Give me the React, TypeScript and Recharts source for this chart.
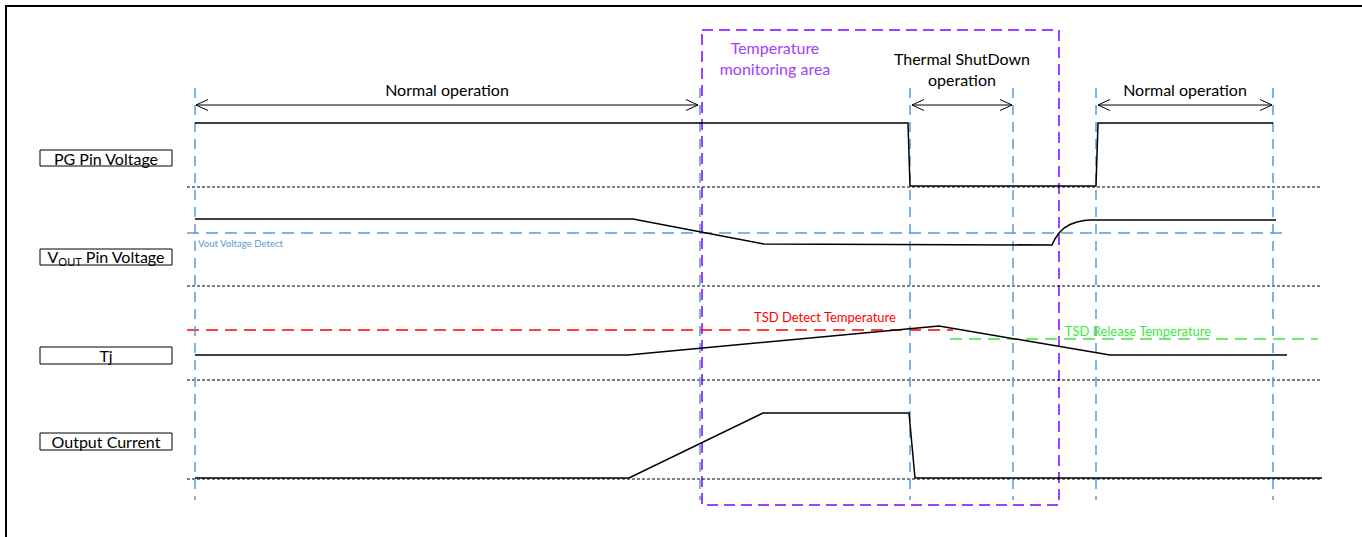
import React from 'react';
import { LineChart, Line, XAxis, YAxis, ReferenceLine, ReferenceArea, ReferenceDot } from 'recharts';

// timing diagram, x = time, y = signal level (diagram units, top = 0)
const pgTime = [195, 908, 910, 1096, 1098, 1273];
const pgLevel = [123, 123, 186, 186, 123, 123];

const voutTime = [195, 633, 764, 1052, 1055, 1059, 1064, 1070, 1077, 1084, 1090, 1276];
const voutLevel = [219, 219, 244, 245, 239, 233, 228, 224.5, 222, 220.5, 220, 220];

const tjTime = [195, 628, 939, 1110, 1287];
const tjLevel = [355, 355, 326, 355, 355];

const currentTime = [195, 629, 763, 909, 915, 1322];
const currentLevel = [478, 478, 413, 413, 478, 478];

const phaseMarks = [195, 700, 910, 1013, 1096, 1273];
const laneSeparators = [187, 286, 380, 479];

const voutDetect = 233;
const tsdDetect = 330;
const tsdRelease = 339;

const laneLabels = [
  { name: 'PG Pin Voltage', top: 150, bottom: 166 },
  { name: 'VOUT Pin Voltage', top: 249, bottom: 265 },
  { name: 'Tj', top: 347, bottom: 364 },
  { name: 'Output Current', top: 433, bottom: 450 },
];

const spans = [
  { from: 196, to: 698, lines: ['Normal operation'], at: 89 },
  { from: 912, to: 1012, lines: ['Thermal ShutDown', 'operation'], at: 58 },
  { from: 1098, to: 1272, lines: ['Normal operation'], at: 89 },
];

const FONT = 'Lato, "Open Sans", sans-serif';
const BLUE = '#5b9bd5';
const PURPLE = '#a040ff';
const RED = '#ff0000';
const GREEN = '#3ce83c';
const SIZE = 16;

const pts = (ts: number[], vs: number[]) => ts.map((t, i) => ({ t, v: vs[i] }));

const centerText = (lines: string[], color: string, size: number, lineGap: number) => (props: any) => {
  const vb = props.viewBox || {};
  const cx = (vb.cx ?? vb.x + (vb.width || 0) / 2);
  const cy = (vb.cy ?? vb.y + (vb.height || 0) / 2);
  return (
    <g>
      {lines.map((s, i) => (
        <text key={i} x={cx} y={cy + i * lineGap} textAnchor="middle" dominantBaseline="central"
          fill={color} fontSize={size} fontFamily={FONT}>{s}</text>
      ))}
    </g>
  );
};

const voutLabel = (props: any) => {
  const vb = props.viewBox;
  const cx = vb.x + vb.width / 2;
  const cy = vb.y + vb.height / 2 + 5.5;
  return (
    <text x={cx} y={cy} textAnchor="middle" fill="#000" fontSize={SIZE} fontFamily={FONT}>
      V<tspan fontSize={11} dy={3}>OUT</tspan><tspan dy={-3}> Pin Voltage</tspan>
    </text>
  );
};

export default function App() {
  return (
    <div style={{ position: 'absolute', left: 0, top: 0, background: '#fff', fontFamily: FONT }}>
      <LineChart width={1362} height={537} margin={{ top: 0, right: 0, bottom: 0, left: 0 }}>
        <XAxis type="number" dataKey="t" domain={[0, 1362]} hide allowDataOverflow />
        <YAxis type="number" domain={[0, 537]} reversed hide allowDataOverflow />

        {/* frame */}
        <ReferenceLine segment={[{ x: 5, y: 6 }, { x: 1362, y: 6 }]} stroke="#000" strokeWidth={2} />
        <ReferenceLine segment={[{ x: 6, y: 6 }, { x: 6, y: 537 }]} stroke="#000" strokeWidth={2} />

        {laneSeparators.map((y) => (
          <ReferenceLine key={y} segment={[{ x: 187, y }, { x: 1322, y }]} stroke="#000" strokeWidth={1} strokeDasharray="3 2" />
        ))}

        <ReferenceLine segment={[{ x: 187, y: voutDetect }, { x: 1289, y: voutDetect }]} stroke={BLUE} strokeWidth={1.5} strokeDasharray="12 7" />
        <ReferenceLine segment={[{ x: 187, y: tsdDetect }, { x: 953, y: tsdDetect }]} stroke={RED} strokeWidth={1.5} strokeDasharray="12 7" />
        <ReferenceLine segment={[{ x: 950, y: tsdRelease }, { x: 1318, y: tsdRelease }]} stroke={GREEN} strokeWidth={1.5} strokeDasharray="12 7" />

        <ReferenceArea x1={702} x2={1059} y1={30} y2={505} fill="none" stroke={PURPLE} strokeWidth={2} strokeDasharray="11 6" />

        {phaseMarks.map((x) => (
          <ReferenceLine key={x} segment={[{ x, y: 88 }, { x, y: 500 }]} stroke={BLUE} strokeWidth={1.5} strokeDasharray="10 7" />
        ))}

        <Line data={pts(pgTime, pgLevel)} dataKey="v" type="linear" stroke="#000" strokeWidth={1.5} dot={false} activeDot={false} isAnimationActive={false} />
        <Line data={pts(voutTime, voutLevel)} dataKey="v" type="linear" stroke="#000" strokeWidth={1.5} dot={false} activeDot={false} isAnimationActive={false} />
        <Line data={pts(tjTime, tjLevel)} dataKey="v" type="linear" stroke="#000" strokeWidth={1.5} dot={false} activeDot={false} isAnimationActive={false} />
        <Line data={pts(currentTime, currentLevel)} dataKey="v" type="linear" stroke="#000" strokeWidth={1.5} dot={false} activeDot={false} isAnimationActive={false} />

        {/* span arrows */}
        {spans.map((s, i) => (
          <React.Fragment key={i}>
            <ReferenceLine segment={[{ x: s.from, y: 105 }, { x: s.to, y: 105 }]} stroke="#000" strokeWidth={1} />
            <ReferenceLine segment={[{ x: s.from, y: 105 }, { x: s.from + 12, y: 99.5 }]} stroke="#000" strokeWidth={1} />
            <ReferenceLine segment={[{ x: s.from, y: 105 }, { x: s.from + 12, y: 110.5 }]} stroke="#000" strokeWidth={1} />
            <ReferenceLine segment={[{ x: s.to, y: 105 }, { x: s.to - 12, y: 99.5 }]} stroke="#000" strokeWidth={1} />
            <ReferenceLine segment={[{ x: s.to, y: 105 }, { x: s.to - 12, y: 110.5 }]} stroke="#000" strokeWidth={1} />
            <ReferenceDot x={(s.from + s.to) / 2} y={s.at} r={0.01} fill="none" stroke="none"
              label={{ content: centerText(s.lines, '#000', SIZE, 21) }} />
          </React.Fragment>
        ))}

        <ReferenceDot x={775} y={47} r={0.01} fill="none" stroke="none"
          label={{ content: centerText(['Temperature', 'monitoring area'], PURPLE, SIZE, 21) }} />
        <ReferenceDot x={198} y={244} r={0.01} fill="none" stroke="none"
          label={{ content: (p: any) => <text x={p.viewBox.cx ?? p.viewBox.x} y={(p.viewBox.cy ?? p.viewBox.y) + 3} fill={BLUE} fontSize={9.6} fontFamily={FONT}>Vout Voltage Detect</text> }} />
        <ReferenceDot x={825} y={317} r={0.01} fill="none" stroke="none"
          label={{ content: centerText(['TSD Detect Temperature'], RED, 13, 0) }} />
        <ReferenceDot x={1138} y={331} r={0.01} fill="none" stroke="none"
          label={{ content: centerText(['TSD Release Temperature'], GREEN, 13, 0) }} />

        {laneLabels.map((l) => (
          <ReferenceArea key={l.name} x1={40} x2={172} y1={l.top} y2={l.bottom} fill="#fff" fillOpacity={1} stroke="#000" strokeWidth={1}
            label={{ content: l.name === 'VOUT Pin Voltage' ? voutLabel : centerText([l.name], '#000', SIZE, 0) }} />
        ))}
      </LineChart>
    </div>
  );
}
